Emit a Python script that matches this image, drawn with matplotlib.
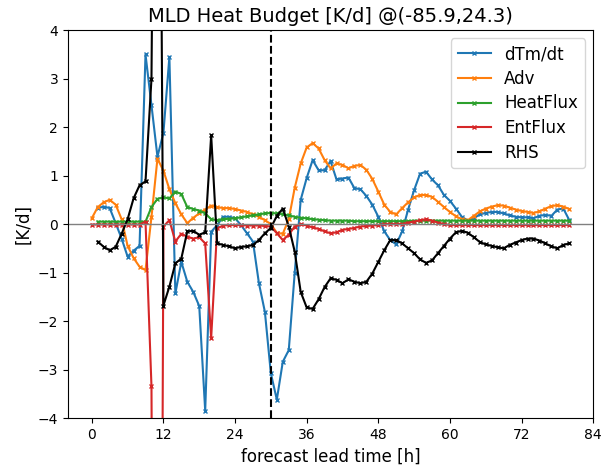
import numpy as np
import matplotlib
matplotlib.use('Agg')
import matplotlib.pyplot as plt

nan = np.nan
hours = np.arange(0, 81)

dtm = [nan, 0.33, 0.36, 0.33, 0.02, -0.3, -0.67, -0.55, -0.45, 3.5,
       2.45, 1.39, 1.88, 3.45, -1.43, -0.78, -1.19, -1.4, -1.69, -3.85,
       -0.16, -0.02, 0.15, 0.15, 0.12, -0.02, -0.19, -0.36, -1.22, -1.81,
       -3.08, -3.62, -2.84, -2.6, -1.0, 0.5, 0.95, 1.32, 1.11, 1.11,
       1.3, 0.92, 0.94, 0.96, 0.74, 0.72, 0.58, 0.4, 0.15, -0.15,
       -0.33, -0.42, -0.15, 0.3, 0.7, 1.04, 1.08, 0.92, 0.8, 0.6,
       0.48, 0.32, 0.15, 0.07, 0.12, 0.2, 0.23, 0.25, 0.25, 0.22,
       0.18, 0.15, 0.14, 0.14, 0.12, 0.17, 0.19, 0.17, 0.3, 0.32,
       0.08]

adv = [0.12, 0.35, 0.45, 0.5, 0.4, 0.1, -0.45, -0.7, -0.88, -0.95,
       0.15, 1.35, 1.1, 0.72, 0.43, 0.2, 0.02, 0.13, 0.22, 0.3,
       0.38, 0.35, 0.33, 0.33, 0.31, 0.28, 0.25, 0.2, 0.15, 0.08,
       0.0, -0.18, -0.2, 0.1, 0.75, 1.25, 1.58, 1.67, 1.56, 1.32,
       1.15, 1.25, 1.22, 1.15, 1.2, 1.22, 1.12, 0.93, 0.67, 0.4,
       0.25, 0.2, 0.33, 0.45, 0.55, 0.6, 0.6, 0.56, 0.46, 0.35,
       0.25, 0.16, 0.1, 0.08, 0.17, 0.26, 0.32, 0.36, 0.39, 0.38,
       0.34, 0.3, 0.27, 0.25, 0.23, 0.26, 0.32, 0.37, 0.39, 0.36,
       0.31]

heatflux = [nan, 0.05, 0.05, 0.05, 0.05, 0.05, 0.05, 0.05, 0.05, 0.05,
            0.35, 0.52, 0.55, 0.53, 0.67, 0.62, 0.35, 0.31, 0.28, 0.22,
            0.1, 0.08, 0.1, 0.11, 0.12, 0.14, 0.16, 0.18, 0.2, 0.22,
            0.23, 0.22, 0.2, 0.18, 0.15, 0.13, 0.12, 0.1, 0.09, 0.08,
            0.07, 0.07, 0.07, 0.07, 0.06, 0.06, 0.06, 0.06, 0.06, 0.06,
            0.06, 0.06, 0.06, 0.06, 0.07, 0.07, 0.07, 0.07, 0.07, 0.07,
            0.07, 0.07, 0.07, 0.07, 0.07, 0.07, 0.07, 0.07, 0.07, 0.07,
            0.07, 0.07, 0.07, 0.07, 0.07, 0.07, 0.07, 0.07, 0.07, 0.07,
            0.07]

entflux = [-0.01, -0.01, -0.01, -0.01, -0.01, -0.01, -0.01, -0.01, -0.01, 0.05,
           -3.35, -30.0, -0.05, 0.08, -0.36, -0.2, -0.26, -0.3, -0.27, -0.4,
           -2.35, -0.09, -0.03, -0.02, -0.02, -0.02, -0.03, -0.03, -0.03, -0.04,
           -0.05, -0.19, -0.33, -0.22, -0.05, 0.0, -0.03, -0.07, -0.1, -0.15,
           -0.19, -0.17, -0.12, -0.1, -0.08, -0.05, -0.04, -0.03, -0.02, 0.0,
           0.0, 0.0, 0.0, 0.03, 0.05, 0.08, 0.1, 0.07, 0.03, 0.0,
           -0.02, -0.02, -0.02, -0.02, -0.02, -0.02, -0.02, -0.02, -0.02, -0.02,
           -0.02, -0.02, -0.02, -0.02, -0.02, -0.02, -0.02, -0.02, -0.02, -0.02,
           -0.02]

rhs = [nan, -0.36, -0.47, -0.54, -0.47, -0.2, 0.1, 0.53, 0.8, 0.88,
       3.0, 18.0, -1.68, -1.29, -0.81, -0.71, -0.15, -0.14, -0.22, -0.17,
       1.83, -0.4, -0.43, -0.46, -0.5, -0.47, -0.46, -0.43, -0.33, -0.19,
       -0.08, 0.17, 0.32, -0.05, -0.57, -1.4, -1.72, -1.75, -1.55, -1.3,
       -1.12, -1.15, -1.22, -1.14, -1.19, -1.22, -1.19, -1.02, -0.78, -0.54,
       -0.33, -0.33, -0.4, -0.5, -0.6, -0.73, -0.8, -0.75, -0.6, -0.45,
       -0.3, -0.17, -0.14, -0.18, -0.27, -0.37, -0.42, -0.45, -0.48, -0.5,
       -0.43, -0.38, -0.33, -0.3, -0.3, -0.34, -0.4, -0.46, -0.5, -0.43,
       -0.4]

t_init = 30

fig = plt.figure(figsize=(6.01, 4.71), dpi=100)
ax = fig.add_axes([0.113, 0.1125, 0.874, 0.8235])

ax.plot(hours, dtm, color='tab:blue', marker='x', ms=3, label='dTm/dt')
ax.plot(hours, adv, color='tab:orange', marker='x', ms=3, label='Adv')
ax.plot(hours, heatflux, color='tab:green', marker='x', ms=3, label='HeatFlux')
ax.plot(hours, entflux, color='tab:red', marker='x', ms=3, label='EntFlux')
ax.plot(hours, rhs, color='k', marker='x', ms=3, label='RHS')
ax.axhline(0, color='gray', lw=1)
ax.axvline(t_init, color='k', ls='--', lw=1.5)

ax.set_ylim(-4, 4)
ax.set_xlim(-4, 84)
ax.set_xticks(np.arange(0, 85, 12))
ax.set_xlabel('forecast lead time [h]', fontsize=12)
ax.set_ylabel('[K/d]', fontsize=12)
ax.set_title('MLD Heat Budget [K/d] @(-85.9,24.3)', fontsize=14)
ax.legend(loc='upper right', fontsize=12, labelspacing=0.4)

fig.savefig('out.png', dpi=100)
